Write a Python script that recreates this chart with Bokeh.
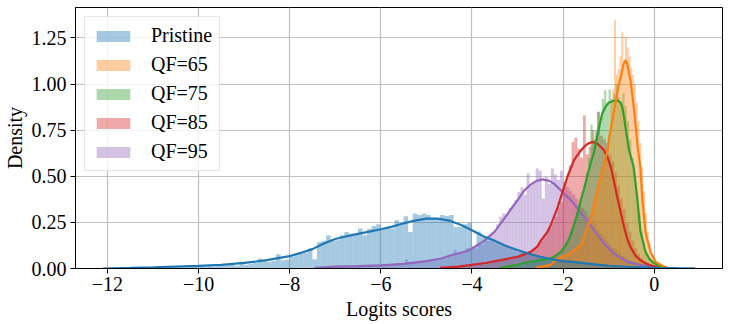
import numpy as np
from bokeh.plotting import figure
from bokeh.models import Legend, LegendItem, FixedTicker, PrintfTickFormatter, CustomJSTickFormatter
from bokeh.embed import file_html
from bokeh.resources import INLINE

SERIES = ["Pristine", "QF=65", "QF=75", "QF=85", "QF=95"]
COLORS = ["#1f77b4", "#ff7f0e", "#2ca02c", "#d62728", "#9467bd"]

X_TICKS = [-12, -10, -8, -6, -4, -2, 0]
Y_TICKS = [0.0, 0.25, 0.5, 0.75, 1.0, 1.25]

# ---- histogram densities (bin start, bin width, heights) ----
PRISTINE_BIN_START = -12.0
PRISTINE_BIN_WIDTH = 0.1
PRISTINE_HIST = [
    0.001, 0.001, 0.002, 0.001, 0.002, 0.002, 0.003, 0.002, 0.003, 0.003,
    0.004, 0.004, 0.005, 0.004, 0.006, 0.005, 0.006, 0.007, 0.008, 0.008,
    0.01, 0.01, 0.015, 0.01, 0.02, 0.015, 0.02, 0.02, 0.015, 0.025,
    0.02, 0.025, 0.03, 0.054, 0.045, 0.035, 0.04, 0.077, 0.045, 0.049,
    0.063, 0.072, 0.081, 0.085, 0.108, 0.05, 0.144, 0.15, 0.18, 0.15,
    0.153, 0.18, 0.198, 0.19, 0.19, 0.217, 0.18, 0.215, 0.23, 0.24,
    0.215, 0.22, 0.217, 0.262, 0.24, 0.283, 0.198, 0.298, 0.29, 0.298,
    0.29, 0.275, 0.27, 0.29, 0.285, 0.29, 0.225, 0.225, 0.24, 0.25,
    0.117, 0.2, 0.17, 0.17, 0.16, 0.14, 0.13, 0.12, 0.11, 0.1,
    0.09, 0.085, 0.075, 0.07, 0.065, 0.06, 0.05, 0.05, 0.045, 0.04,
    0.035, 0.035, 0.03, 0.03, 0.025, 0.02, 0.02, 0.02, 0.015, 0.015,
    0.01, 0.01, 0.01, 0.008, 0.006, 0.005, 0.004, 0.003, 0.002, 0.002,
]

QF95_BIN_START = -7.4
QF95_BIN_WIDTH = 1.0 / 15
QF95_HIST = [
    0.003, 0.004, 0.005, 0.006, 0.006, 0.008,
    0.008, 0.01, 0.009, 0.012, 0.01, 0.012, 0.014, 0.012, 0.015, 0.014, 0.016, 0.018, 0.015, 0.02, 0.018,
    0.02, 0.022, 0.02, 0.025, 0.022, 0.028, 0.025, 0.03, 0.049, 0.028, 0.032, 0.035, 0.03, 0.038, 0.04,
    0.04, 0.045, 0.05, 0.048, 0.055, 0.06, 0.058, 0.065, 0.07, 0.1, 0.08, 0.09, 0.095, 0.11, 0.1,
    0.12, 0.11, 0.14, 0.13, 0.16, 0.15, 0.19, 0.2, 0.24, 0.28, 0.3, 0.29, 0.33, 0.343, 0.37,
    0.415, 0.44, 0.4, 0.515, 0.45, 0.47, 0.542, 0.53, 0.38, 0.497, 0.46, 0.542, 0.51, 0.48, 0.53,
    0.47, 0.44, 0.42, 0.4, 0.38, 0.35, 0.33, 0.31, 0.28, 0.26, 0.24, 0.21, 0.19, 0.17, 0.15,
    0.13, 0.11, 0.1, 0.085, 0.07, 0.06, 0.05, 0.04, 0.035, 0.03, 0.025, 0.02, 0.016, 0.012, 0.01,
    0.008, 0.006, 0.005, 0.004, 0.003, 0.002,
]

QF85_BIN_START = -4.5
QF85_BIN_WIDTH = 1.0 / 16
QF85_HIST = [
    0.005, 0.006, 0.008, 0.008, 0.01, 0.012, 0.01, 0.015,
    0.015, 0.02, 0.018, 0.025, 0.022, 0.03, 0.028, 0.035, 0.04, 0.045, 0.042, 0.05, 0.055, 0.05, 0.06, 0.065,
    0.065, 0.07, 0.075, 0.085, 0.08, 0.1, 0.11, 0.13, 0.15, 0.17, 0.2, 0.22, 0.25, 0.28, 0.33, 0.36,
    0.45, 0.5, 0.56, 0.686, 0.71, 0.65, 0.6, 0.83, 0.62, 0.66, 0.75, 0.7, 0.85, 0.72, 0.7, 0.68,
    0.62, 0.58, 0.52, 0.45, 0.38, 0.32, 0.25, 0.2, 0.15, 0.11, 0.08, 0.06, 0.04, 0.03, 0.02, 0.015,
    0.01, 0.006, 0.004, 0.002,
]

QF75_BIN_START = -3.3
QF75_BIN_WIDTH = 0.05
QF75_HIST = [
    0.004, 0.005, 0.006, 0.008, 0.01, 0.012,
    0.015, 0.02, 0.018, 0.025, 0.03, 0.028, 0.032, 0.035, 0.04, 0.038,
    0.045, 0.05, 0.048, 0.055, 0.06, 0.065, 0.07, 0.08, 0.09, 0.1,
    0.12, 0.14, 0.16, 0.2, 0.23, 0.27, 0.31, 0.35, 0.4, 0.45,
    0.52, 0.6, 0.78, 0.7, 0.75, 0.85, 0.8, 0.92, 0.966, 0.9,
    0.97, 0.92, 0.95, 1.0, 0.93, 0.9, 0.95, 0.88, 0.8, 0.7,
    0.6, 0.5, 0.4, 0.3, 0.2, 0.14, 0.09, 0.06, 0.04, 0.03,
    0.02, 0.012, 0.008, 0.004,
]

QF65_BIN_START = -2.6
QF65_BIN_WIDTH = 0.04
QF65_HIST = [
    0.003, 0.004, 0.005, 0.006, 0.008, 0.01, 0.012, 0.015, 0.018, 0.02,
    0.03, 0.04, 0.05, 0.06, 0.07, 0.075, 0.08, 0.07, 0.065, 0.07,
    0.08, 0.09, 0.1, 0.11, 0.12, 0.13, 0.15, 0.18, 0.21, 0.24,
    0.27, 0.3, 0.35, 0.38, 0.42, 0.47, 0.5, 0.55, 0.6, 0.66,
    0.75, 0.9, 0.97, 1.346, 1.05, 1.08, 1.15, 1.28, 1.1, 1.255,
    1.2, 1.15, 1.09, 1.05, 1.0, 0.9, 0.8, 0.68, 0.55, 0.42,
    0.3, 0.2, 0.14, 0.09, 0.06, 0.04, 0.03, 0.02, 0.015, 0.01,
    0.006, 0.004, 0.002,
]

# ---- KDE curves ----
PRISTINE_KDE_X = [-12.1, -11.5, -11.0, -10.5, -10.0, -9.5, -9.0, -8.5, -8.0, -7.75, -7.5, -7.25, -7.0,
                  -6.75, -6.5, -6.25, -6.0, -5.75, -5.5, -5.25, -5.0, -4.75, -4.5, -4.25, -4.0, -3.75,
                  -3.5, -3.25, -3.0, -2.75, -2.5, -2.25, -2.0, -1.75, -1.5, -1.0, -0.5, 0.0, 0.5, 0.9]
PRISTINE_KDE_Y = [0.0, 0.003, 0.006, 0.01, 0.014, 0.02, 0.03, 0.045, 0.067, 0.085, 0.105, 0.135, 0.16,
                  0.175, 0.188, 0.2, 0.213, 0.227, 0.245, 0.26, 0.27, 0.27, 0.26, 0.237, 0.207, 0.175,
                  0.15, 0.122, 0.1, 0.08, 0.063, 0.05, 0.04, 0.035, 0.028, 0.015, 0.008, 0.004, 0.002, 0.001]

QF95_KDE_X = [-7.45, -7.0, -6.5, -6.0, -5.5, -5.0, -4.68, -4.46, -4.1, -3.95, -3.73, -3.5, -3.29, -3.0,
              -2.86, -2.71, -2.58, -2.45, -2.3, -2.2, -2.05, -1.94, -1.76, -1.54, -1.32, -1.1, -0.88,
              -0.59, -0.3, 0.0, 0.2]
QF95_KDE_Y = [0.003, 0.01, 0.013, 0.017, 0.025, 0.04, 0.054, 0.072, 0.095, 0.115, 0.15, 0.2, 0.27, 0.37,
              0.42, 0.455, 0.475, 0.483, 0.475, 0.46, 0.424, 0.397, 0.352, 0.28, 0.208, 0.135, 0.081,
              0.036, 0.018, 0.01, 0.004]

QF85_KDE_X = [-4.7, -4.3, -4.0, -3.7, -3.37, -3.0, -2.71, -2.56, -2.49, -2.34, -2.27, -2.12, -1.98, -1.9,
              -1.76, -1.64, -1.54, -1.45, -1.36, -1.25, -1.1, -1.02, -0.95, -0.88, -0.81, -0.73, -0.66,
              -0.59, -0.52, -0.41, -0.3, -0.19, -0.08, 0.05, 0.2]
QF85_KDE_Y = [0.003, 0.01, 0.02, 0.03, 0.045, 0.063, 0.09, 0.12, 0.15, 0.2, 0.235, 0.33, 0.44, 0.5,
              0.587, 0.63, 0.659, 0.677, 0.686, 0.678, 0.641, 0.6, 0.55, 0.47, 0.388, 0.3, 0.225,
              0.16, 0.117, 0.07, 0.045, 0.028, 0.018, 0.008, 0.002]

QF75_KDE_X = [-3.4, -3.0, -2.86, -2.5, -2.27, -2.16, -2.05, -1.94, -1.85, -1.76, -1.68, -1.61, -1.54,
              -1.46, -1.38, -1.32, -1.25, -1.14, -1.06, -0.99, -0.9, -0.81, -0.74, -0.7, -0.66, -0.63,
              -0.59, -0.55, -0.45, -0.37, -0.3, -0.19, -0.1, -0.04, 0.1, 0.25]
QF75_KDE_Y = [0.003, 0.02, 0.03, 0.045, 0.054, 0.07, 0.09, 0.125, 0.17, 0.235, 0.3, 0.37, 0.43,
              0.51, 0.58, 0.63, 0.72, 0.84, 0.88, 0.9, 0.908, 0.912, 0.9, 0.876, 0.82, 0.767,
              0.7, 0.641, 0.55, 0.38, 0.2, 0.09, 0.05, 0.036, 0.015, 0.003]

QF65_KDE_X = [-2.6, -2.27, -2.16, -2.0, -1.9, -1.8, -1.72, -1.61, -1.54, -1.47, -1.39, -1.32, -1.25,
              -1.14, -1.03, -0.99, -0.92, -0.84, -0.78, -0.73, -0.68, -0.64, -0.6, -0.56, -0.52, -0.48,
              -0.44, -0.4, -0.37, -0.33, -0.3, -0.26, -0.19, -0.08, 0.03, 0.18, 0.3]
QF65_KDE_Y = [0.003, 0.02, 0.045, 0.065, 0.072, 0.09, 0.105, 0.125, 0.17, 0.22, 0.27, 0.35, 0.42,
              0.53, 0.63, 0.7, 0.8, 0.912, 0.99, 1.04, 1.1, 1.128, 1.12, 1.07, 1.02, 0.94,
              0.858, 0.76, 0.678, 0.6, 0.54, 0.38, 0.198, 0.09, 0.036, 0.015, 0.002]

HISTS = {
    "Pristine": (PRISTINE_BIN_START, PRISTINE_BIN_WIDTH, PRISTINE_HIST),
    "QF=65": (QF65_BIN_START, QF65_BIN_WIDTH, QF65_HIST),
    "QF=75": (QF75_BIN_START, QF75_BIN_WIDTH, QF75_HIST),
    "QF=85": (QF85_BIN_START, QF85_BIN_WIDTH, QF85_HIST),
    "QF=95": (QF95_BIN_START, QF95_BIN_WIDTH, QF95_HIST),
}
KDES = {
    "Pristine": (PRISTINE_KDE_X, PRISTINE_KDE_Y),
    "QF=65": (QF65_KDE_X, QF65_KDE_Y),
    "QF=75": (QF75_KDE_X, QF75_KDE_Y),
    "QF=85": (QF85_KDE_X, QF85_KDE_Y),
    "QF=95": (QF95_KDE_X, QF95_KDE_Y),
}

FONT = "Liberation Serif"

p = figure(width=731, height=324, x_range=(-12.70, 1.50), y_range=(0, 1.415),
           output_backend="svg", toolbar_location=None,
           min_border_left=75, min_border_right=9, min_border_top=7, min_border_bottom=56)

p.background_fill_color = "white"
p.border_fill_color = "white"
p.outline_line_color = "black"
p.outline_line_width = 1

p.xgrid.grid_line_color = "#c0c0c0"
p.ygrid.grid_line_color = "#c0c0c0"
p.xgrid.grid_line_width = 1.2
p.ygrid.grid_line_width = 1.2

p.xaxis.ticker = FixedTicker(ticks=X_TICKS)
p.yaxis.ticker = FixedTicker(ticks=Y_TICKS)
p.xaxis.formatter = CustomJSTickFormatter(code="return tick < 0 ? '\u2212' + Math.abs(tick) : String(tick);")
p.yaxis.formatter = PrintfTickFormatter(format="%.2f")

for ax in (p.xaxis[0], p.yaxis[0]):
    ax.major_label_text_font = FONT
    ax.major_label_text_font_size = "20px"
    ax.major_label_text_color = "black"
    ax.axis_label_text_font = FONT
    ax.axis_label_text_font_size = "20px"
    ax.axis_label_text_font_style = "normal"
    ax.axis_label_text_color = "black"
    ax.axis_line_color = "black"
    ax.major_tick_line_color = "black"
    ax.major_tick_out = 5
    ax.major_tick_in = 0
    ax.minor_tick_line_color = None

p.xaxis.axis_label = "Logits scores"
p.yaxis.axis_label = "Density"
p.xaxis.major_label_standoff = 3
p.xaxis.axis_label_standoff = 4
p.yaxis.major_label_standoff = 4
p.yaxis.axis_label_standoff = 3

renderers = {}
# seaborn draws hue levels in reverse order, so the first level ends on top
for name, color in list(zip(SERIES, COLORS))[::-1]:
    start, width, heights = HISTS[name]
    h = np.array(heights)
    left = start + width * np.arange(len(h))
    r = p.quad(left=left, right=left + width, bottom=0, top=h,
               fill_color=color, fill_alpha=0.4, line_color=None)
    renderers[name] = r

for name, color in list(zip(SERIES, COLORS))[::-1]:
    kx, ky = KDES[name]
    p.line(kx, ky, line_color=color, line_width=2.2)

legend = Legend(items=[LegendItem(label=n, renderers=[renderers[n]]) for n in SERIES],
                location="top_left")
legend.label_text_font = FONT
legend.label_text_font_size = "20px"
legend.label_text_color = "black"
legend.glyph_width = 42
legend.glyph_height = 14
legend.label_height = 20
legend.label_standoff = 17
legend.spacing = 6
legend.padding = 7
legend.margin = 9
legend.border_line_color = "#cccccc"
legend.border_line_width = 1
legend.background_fill_color = "white"
legend.background_fill_alpha = 0.8
p.add_layout(legend, "center")

open("out.html", "w").write(file_html(p, INLINE))
